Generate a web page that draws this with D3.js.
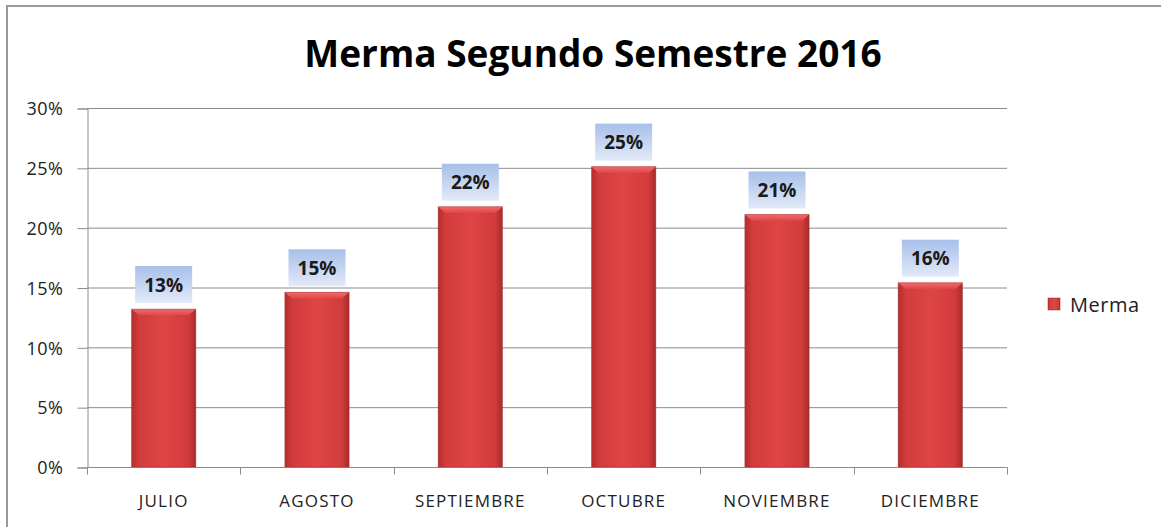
<!DOCTYPE html>
<html><head><meta charset="utf-8">
<script src="https://cdn.jsdelivr.net/npm/d3@7"></script>
<style>body{margin:0;background:#fff}svg{display:block}</style>
</head><body>
<svg id="c" width="1161" height="527"></svg>
<script>
const categories = ["JULIO","AGOSTO","SEPTIEMBRE","OCTUBRE","NOVIEMBRE","DICIEMBRE"];
const mermaValues = [0.132, 0.146, 0.2175, 0.251, 0.211, 0.154];
const valueLabels = ["13%","15%","22%","25%","21%","16%"];
const yTicks = [0,0.05,0.10,0.15,0.20,0.25,0.30];
const seriesName = "Merma";
const titleText = "Merma Segundo Semestre 2016";

const svg = d3.select("#c");
const defs = svg.append("defs");
const bg = defs.append("linearGradient").attr("id","barG").attr("x1","0").attr("x2","1").attr("y1","0").attr("y2","0");
bg.append("stop").attr("offset","0").attr("stop-color","#b32d2d");
bg.append("stop").attr("offset","0.12").attr("stop-color","#d33c3c");
bg.append("stop").attr("offset","0.5").attr("stop-color","#de4545");
bg.append("stop").attr("offset","0.88").attr("stop-color","#d33c3c");
bg.append("stop").attr("offset","1").attr("stop-color","#a82a2a");
const lg = defs.append("linearGradient").attr("id","lblG").attr("x1","0").attr("x2","0").attr("y1","0").attr("y2","1");
lg.append("stop").attr("offset","0").attr("stop-color","#a7bfea");
lg.append("stop").attr("offset","1").attr("stop-color","#e3eaf8");
const topG = defs.append("linearGradient").attr("id","topG").attr("x1","0").attr("x2","0").attr("y1","0").attr("y2","1");
topG.append("stop").attr("offset","0").attr("stop-color","#f06a6a");
topG.append("stop").attr("offset","1").attr("stop-color","#e04a4a");

// outer border
svg.append("rect").attr("x",7).attr("y",6).attr("width",1170).attr("height",540)
  .attr("fill","none").attr("stroke","#9a9a9a").attr("stroke-width",2);

const pLeft = 87, pRight = 1007, pTop = 108, pBottom = 467;
const x = d3.scaleBand().domain(categories).range([pLeft,pRight]).paddingInner(0.58).paddingOuter(0.29);
const y = d3.scaleLinear().domain([0,0.30]).range([pBottom,pTop]);

// gridlines
svg.append("g").selectAll("line").data(yTicks.filter(d=>d>0)).join("line")
  .attr("x1",pLeft).attr("x2",pRight).attr("y1",d=>y(d)+0.5).attr("y2",d=>y(d)+0.5)
  .attr("stroke","#8c8c8c").attr("stroke-width",1);

// y axis
const yAxis = d3.axisLeft(y).tickValues(yTicks).tickFormat(d3.format(".0%")).tickSize(10).tickPadding(14);
const gy = svg.append("g").attr("transform",`translate(${pLeft+0.5},0.5)`).call(yAxis);
gy.select(".domain").attr("stroke","#8c8c8c");
gy.selectAll(".tick line").attr("stroke","#8c8c8c");
gy.selectAll("text").attr("font-family","'Open Sans', sans-serif").attr("font-size",18).attr("letter-spacing",0.5).attr("fill","#222").attr("dy","0.35em");

// x axis
const gx = svg.append("g").attr("transform",`translate(0,${pBottom+0.5})`);
gx.append("line").attr("x1",pLeft).attr("x2",pRight+0.5).attr("stroke","#8c8c8c");
const bounds = d3.range(categories.length+1).map(i=>pLeft + i*(pRight-pLeft)/categories.length);
gx.selectAll("line.t").data(bounds).join("line").attr("class","t")
  .attr("x1",d=>Math.round(d)+0.5).attr("x2",d=>Math.round(d)+0.5).attr("y1",0).attr("y2",7).attr("stroke","#8c8c8c");
gx.selectAll("text").data(categories).join("text")
  .attr("x",d=>x(d)+x.bandwidth()/2).attr("y",39).attr("text-anchor","middle")
  .attr("font-family","'Open Sans', sans-serif").attr("font-size",17).attr("letter-spacing",1.2).attr("fill","#222")
  .text(d=>d);

// bars
const bars = svg.append("g");
categories.forEach((c,i)=>{
  const v = mermaValues[i];
  const bx = x(c), bw = x.bandwidth(), by = y(v), bh = pBottom - y(v);
  bars.append("rect").attr("x",bx).attr("y",by).attr("width",bw).attr("height",bh).attr("fill","url(#barG)");
  bars.append("path").attr("d",`M${bx},${by}L${bx+bw},${by}L${bx+bw-7},${by+6}L${bx+7},${by+6}Z`).attr("fill","url(#topG)");
  bars.append("rect").attr("x",bx).attr("y",by).attr("width",bw).attr("height",bh).attr("fill","none").attr("stroke","#9e2828").attr("stroke-opacity",0.35);
  const lw = 57, lh = 37;
  const lx = bx + bw/2 - lw/2, ly = by - 6 - lh;
  svg.append("rect").attr("x",lx).attr("y",ly).attr("width",lw).attr("height",lh).attr("fill","url(#lblG)");
  svg.append("text").attr("x",bx+bw/2).attr("y",ly+lh/2+7).attr("text-anchor","middle")
    .attr("font-family","'Open Sans', sans-serif").attr("font-weight","bold").attr("font-size",19).attr("fill","#1a1a1a")
    .text(valueLabels[i]);
});

// title
svg.append("text").attr("x",593).attr("y",67).attr("text-anchor","middle")
  .attr("font-family","'Open Sans', sans-serif").attr("font-weight","bold").attr("font-size",37).attr("fill","#000")
  .text(titleText);

// legend
svg.append("rect").attr("x",1048).attr("y",298).attr("width",12).attr("height",12).attr("fill","url(#barG)").attr("stroke","#9e2828").attr("stroke-opacity",0.5);
svg.append("text").attr("x",1070).attr("y",312).attr("font-family","'Open Sans', sans-serif").attr("font-size",20).attr("letter-spacing",0.5).attr("fill","#222").text(seriesName);
</script>
</body></html>
